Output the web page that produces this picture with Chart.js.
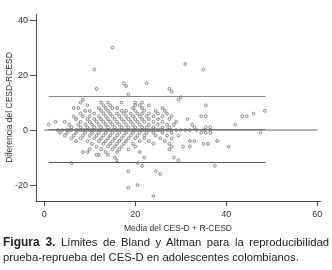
<!DOCTYPE html>
<html>
<head>
<meta charset="utf-8">
<script src="https://cdn.jsdelivr.net/npm/chart.js@4.4.1/dist/chart.umd.min.js"></script>
<style>
  html, body { margin: 0; padding: 0; background: #fff; }
  #wrap { position: relative; width: 332px; height: 270px; overflow: hidden; }
  #grafico { position: absolute; left: 0; top: 0; }
  #leyenda {
    position: absolute; left: 3px; top: 235px; width: 326px;
    font-family: "Liberation Sans", Arial, sans-serif;
    font-size: 11.3px; line-height: 15px; color: #222; white-space: nowrap;
  }
  #leyenda .l1 { text-align: justify; text-align-last: justify; white-space: normal; }
  #leyenda b { font-weight: bold; font-size: 12px; }
</style>
</head>
<body>
<div id="wrap">
  <canvas id="grafico" width="332" height="270"></canvas>
  <div id="leyenda"><div class="l1"><b>Figura 3.</b> Límites de Bland y Altman para la reproducibilidad</div><div>prueba-reprueba del CES-D en adolescentes colombianos.</div></div>
</div>
<script>
// diferencia (CES-D - R-CESD) y las medias observadas en esa fila
const filas = [
  [30, [15]],
  [24, [31]],
  [22, [11, 35]],
  [17, [17.5, 22.5]],
  [16, [18]],
  [15, [11.5, 27.5]],
  [14, [28]],
  [13, [18.5]],
  [12, [30]],
  [11, [8.5, 29.5]],
  [10, [8, 12.5, 14, 17, 20, 21.5]],
  [9, [9.5, 13, 14.5, 20, 21, 23, 35.5]],
  [8, [6.5, 7.5, 12, 13.5, 15, 16, 19.5, 21.5, 26]],
  [7, [9, 10, 12.5, 14, 17, 18, 20, 22, 24.5, 26.5, 48.5]],
  [6, [8, 11, 13, 14.5, 16, 17.5, 19, 20.5, 21.5, 23, 25, 27, 46]],
  [5, [6.5, 8.5, 10, 12, 13.5, 15, 16.5, 18, 19.5, 21, 22.5, 24, 26, 28, 34.5, 35.5, 43.5, 44.5]],
  [4, [7, 9.5, 11, 12.5, 14, 15.5, 17, 18.5, 20, 21.5, 23, 25, 27.5, 31.5]],
  [3, [2.5, 4.5, 8, 10, 11.5, 13, 14.5, 16, 17.5, 19, 20.5, 22, 24, 26, 29]],
  [2, [1, 5.5, 7.5, 9, 10.5, 12, 13.5, 15, 16.5, 18, 19.5, 21, 23, 25, 27, 28.5, 32.5, 42]],
  [1, [6, 8, 9.5, 11, 12.5, 14, 15.5, 17, 18.5, 20, 21.5, 22.5, 24, 26, 27.5, 33, 35.5, 36.5]],
  [0, [3, 4, 5, 5.5, 6, 7, 7.5, 8, 8.5, 9, 9.5, 10, 10.5, 11, 11.5, 12, 12.5, 13, 13.5, 14, 14.5, 15, 15.5, 16, 16.5, 17, 17.5, 18, 18.5, 19, 19.5, 20, 20.5, 21, 21.5, 22, 22.5, 23, 23.5, 24, 24.5, 25, 25.5, 26, 27, 27.5, 28, 29, 30, 31, 32, 33.5, 35, 36.5]],
  [-1, [3.5, 5, 7, 9, 10.5, 12, 13.5, 15, 16.5, 18, 19.5, 21, 22.5, 24, 26, 28, 34.5, 35.5, 36.5, 47.5]],
  [-2, [4.5, 6.5, 8.5, 10, 11.5, 13, 14.5, 16, 17.5, 19, 20.5, 22, 24.5, 27, 29.5]],
  [-3, [6, 8, 11, 12.5, 14, 15.5, 17, 18.5, 20, 22, 25.5, 28]],
  [-4, [7, 9.5, 12, 13.5, 15, 16.5, 18, 21, 23, 26.5, 32, 33, 38]],
  [-5, [10.5, 13, 14.5, 16, 17.5, 19.5, 24, 27.5, 35, 36]],
  [-6, [11.5, 14, 15.5, 17, 20, 28, 30.5, 32, 40.5]],
  [-7, [10, 12.5, 15, 16.5, 18.5, 27.5]],
  [-8, [8.5, 9.5, 13.5, 16, 21]],
  [-9, [11.5, 12, 14]],
  [-10, [15.5, 22, 28.5]],
  [-11, [16, 29.5]],
  [-12, [6, 20.5]],
  [-13, [21.5, 37.5]],
  [-15, [18.5, 24.5]],
  [-16, [25.5]],
  [-20, [20.5]],
  [-21, [18.5]],
  [-24, [24]]
];

const mediaDif = 0.2;
const limSup = 12.2;
const limInf = -11.8;
const rangoLimites = [1, 48.6];
const rangoCero = [0, 60];
const ticksX = [0, 20, 40, 60];
const ticksY = [-20, 0, 20, 40];

let puntos = [];
filas.forEach(f => f[1].forEach(m => puntos.push({x: m, y: f[0]})));

function linea(rango, valor){
  return [{x: rango[0], y: valor}, {x: rango[1], y: valor}];
}

const gris = '#4a4a4a';

let config = {
  type: 'scatter',
  data: {
    datasets: [
      {
        data: puntos,
        pointStyle: 'circle',
        pointRadius: 1.4,
        pointBorderWidth: 0.8,
        borderColor: '#6a6a6a',
        backgroundColor: 'rgba(255,255,255,0)'
      },
      {type: 'line', data: linea(rangoCero, 0), borderColor: '#666', borderWidth: 1, pointRadius: 0},
      {type: 'line', data: linea(rangoLimites, mediaDif), borderColor: '#777', borderWidth: 1, pointRadius: 0},
      {type: 'line', data: linea(rangoLimites, limSup), borderColor: '#888', borderWidth: 1, pointRadius: 0},
      {type: 'line', data: linea(rangoLimites, limInf), borderColor: '#555', borderWidth: 1, pointRadius: 0}
    ]
  },
  options: {
    responsive: false,
    animation: false,
    layout: {padding: {left: 0, top: 14, right: 12, bottom: 34}},
    plugins: {legend: {display: false}, tooltip: {enabled: false}},
    scales: {
      x: {
        type: 'linear',
        min: -1.8,
        max: 60.6,
        afterBuildTicks: s => { s.ticks = ticksX.map(v => ({value: v})); },
        afterFit: s => { s.height = 35; },
        border: {display: true, color: gris, width: 1},
        grid: {display: true, drawOnChartArea: false, drawTicks: true, tickLength: 5, color: gris},
        ticks: {color: '#333', padding: 3, maxRotation: 0, font: {family: 'Liberation Sans', size: 9}},
        title: {display: true, text: 'Media del CES-D + R-CESD', color: '#333', padding: {top: 0, bottom: 2}, font: {family: 'Liberation Sans', size: 8.5}}
      },
      y: {
        type: 'linear',
        min: -25.8,
        max: 42.2,
        afterBuildTicks: s => { s.ticks = ticksY.map(v => ({value: v})); },
        afterFit: s => { s.width = 36; },
        border: {display: true, color: gris, width: 1},
        grid: {display: true, drawOnChartArea: false, drawTicks: true, tickLength: 6, color: gris},
        ticks: {color: '#333', padding: 2, font: {family: 'Liberation Sans', size: 9}},
        title: {display: true, text: 'Diferencia del CESD-RCESD', color: '#333', padding: {top: 5, bottom: 0}, font: {family: 'Liberation Sans', size: 8.5}}
      }
    }
  }
};

let ctx = new Chart(document.getElementById('grafico'), config);
</script>
</body>
</html>
